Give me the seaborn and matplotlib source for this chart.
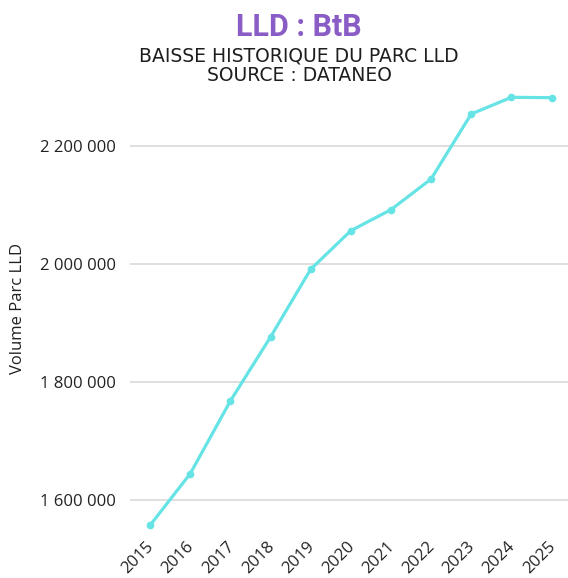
import matplotlib
matplotlib.use("Agg")
import matplotlib.pyplot as plt
from matplotlib.transforms import ScaledTranslation
from matplotlib.ticker import FuncFormatter
import seaborn as sns
import pandas as pd

years = ["2015", "2016", "2017", "2018", "2019", "2020", "2021", "2022", "2023", "2024", "2025"]
volume = [1556300, 1643900, 1767400, 1876000, 1991000, 2056500, 2092200, 2144300, 2254700, 2283000, 2282400]
y_ticks = [1600000, 1800000, 2000000, 2200000]

title = "LLD : BtB"
subtitle = "BAISSE HISTORIQUE DU PARC LLD\nSOURCE : DATANEO"
y_label = "Volume Parc LLD"

df = pd.DataFrame({"year": years, "volume": volume})

sns.set_theme(style="white")
plt.rcParams["font.family"] = ["Open Sans", "DejaVu Sans"]

W, H = 568, 578
fig = plt.figure(figsize=(W / 100, H / 100), dpi=100)
ax_left, ax_right = 130 / W, 1.0
y_top_px, y_bot_px = 87.3, 529.0
ax = fig.add_axes([ax_left, 1 - y_bot_px / H, ax_right - ax_left, (y_bot_px - y_top_px) / H])

sns.lineplot(data=df, x="year", y="volume", ax=ax, color="#66e3e5", linewidth=2.3,
             marker="o", markersize=5.5, markeredgewidth=0, sort=False, clip_on=False, zorder=3)

ax.set_xlim(-0.5, len(years) - 1 + 0.41)
ax.set_ylim(1550000, 2300000)
ax.set_yticks(y_ticks)
ax.yaxis.set_major_formatter(FuncFormatter(lambda v, p: f"{int(v):,}".replace(",", " ")))
ax.grid(axis="y", color="#d9d9d9", linewidth=1.2)
ax.grid(axis="x", visible=False)
for s in ax.spines.values():
    s.set_visible(False)
ax.tick_params(axis="both", length=0, labelsize=12, colors="#222222")
ax.tick_params(axis="y", pad=10)
ax.tick_params(axis="x", pad=7)
ax.set_xlabel("")
ax.set_ylabel(y_label, fontsize=12, color="#222222")
ax.yaxis.set_label_coords(-104 / (W * (ax_right - ax_left)), (y_bot_px - 308) / (y_bot_px - y_top_px))

for lab in ax.get_xticklabels():
    lab.set_rotation(45)
    lab.set_ha("right")
    lab.set_va("top")
    lab.set_transform(lab.get_transform() + ScaledTranslation(7 / 100, 0, fig.dpi_scale_trans))

fig.text(299 / W, 1 - 27 / H, title, ha="center", va="center", fontsize=22, fontweight="bold",
         color="#8a5cc6", family=["Roboto", "DejaVu Sans"])
fig.text(299 / W, 1 - 66 / H, subtitle, ha="center", va="center", fontsize=13.5,
         color="#1e1e1e", family=["DejaVu Sans"], linespacing=1.05)

fig.savefig("out.png", dpi=100, facecolor="white")
